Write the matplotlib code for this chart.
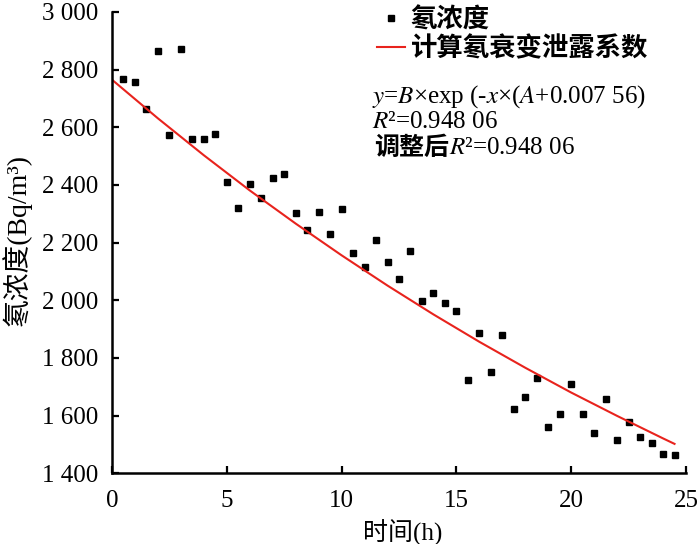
import numpy as np
import matplotlib
matplotlib.use('Agg')
import matplotlib.pyplot as plt
from matplotlib.transforms import offset_copy

plt.rcParams['font.family'] = ['Liberation Serif', 'Noto Sans CJK SC']
plt.rcParams['mathtext.fontset'] = 'stix'

# measured radon concentration (Bq/m3) every half hour
hours = [0.5, 1, 1.5, 2, 2.5, 3, 3.5, 4, 4.5, 5, 5.5, 6, 6.5, 7, 7.5, 8, 8.5, 9, 9.5, 10,
         10.5, 11, 11.5, 12, 12.5, 13, 13.5, 14, 14.5, 15, 15.5, 16, 16.5, 17, 17.5, 18,
         18.5, 19, 19.5, 20, 20.5, 21, 21.5, 22, 22.5, 23, 23.5, 24, 24.5]
radon = [2766, 2757, 2663, 2865, 2572, 2873, 2559, 2561, 2576, 2410, 2320, 2402, 2356, 2424,
         2438, 2303, 2245, 2306, 2230, 2318, 2163, 2116, 2210, 2132, 2074, 2170, 1997, 2025,
         1990, 1963, 1725, 1887, 1752, 1881, 1622, 1666, 1731, 1560, 1607, 1708, 1605, 1540,
         1656, 1516, 1579, 1527, 1505, 1466, 1465]

# fitted curve
fit_x = [0, 2, 4, 6, 8, 10, 12, 14, 16, 18, 20, 22, 24, 24.5]
fit_y = [2765, 2631, 2503, 2381, 2266, 2156, 2051, 1951, 1856, 1766, 1680, 1599, 1521, 1502]

xticks = [0, 5, 10, 15, 20, 25]
yticks = [1400, 1600, 1800, 2000, 2200, 2400, 2600, 2800, 3000]
ytick_labels = ['1 400', '1 600', '1 800', '2 000', '2 200', '2 400', '2 600', '2 800', '3 000']

fig = plt.figure(figsize=(7, 5.44), dpi=100)
ax = fig.add_axes([0.16, 0.13, 0.82, 0.848])

ax.plot(hours, radon, 's', color='black', markersize=4.5, linestyle='none', label='氡浓度')
ax.plot(fit_x, fit_y, color='#e8231d', linewidth=1.5, label='计算氡衰变泄露系数')

ax.set_xlim(0, 25)
ax.set_ylim(1400, 3000)
ax.set_xticks(xticks)
ax.set_yticks(yticks)
ax.set_yticklabels(ytick_labels)
ax.tick_params(direction='in', length=5, width=1.6, labelsize=18)
ax.tick_params(axis='x', pad=12)
ax.tick_params(axis='y', pad=10)

for side in ['top', 'right']:
    ax.spines[side].set_visible(False)
for side in ['left', 'bottom']:
    ax.spines[side].set_linewidth(1.8)

ax.set_xlabel('时间(h)', fontsize=18, va='center')
ax.xaxis.set_label_coords(0.507, -0.128)
ax.set_ylabel('氡浓度(Bq/m³)', fontsize=20)
ax.yaxis.set_label_coords(-0.14, 0.505)

leg = ax.legend(loc='upper left', bbox_to_anchor=(377 / 700, 1 - 7 / 544),
                bbox_transform=fig.transFigure, frameon=False, fontsize=19,
                handlelength=1.05, handletextpad=0.22, labelspacing=0.15,
                borderpad=0, borderaxespad=0, markerscale=0.9)
for t in leg.get_texts():
    t.set_fontweight('bold')

fig.text(372 / 700, 1 - 97 / 544, r'$y$=$B$×exp (-$x$×($A$+0.007 56)', fontsize=18, va='center')
fig.text(372 / 700, 1 - 122 / 544, r'$R$²=0.948 06', fontsize=18, va='center')
t3 = fig.text(374 / 700, 1 - 148 / 544, '调整后', fontsize=18, va='center', fontweight='bold')
fig.canvas.draw()
w = t3.get_window_extent().width
fig.text(374 / 700, 1 - 148 / 544, r'$R$²=0.948 06', fontsize=18, va='center',
         transform=offset_copy(fig.transFigure, fig=fig, x=w, y=0, units='dots'))

fig.savefig('out.png', dpi=100)
